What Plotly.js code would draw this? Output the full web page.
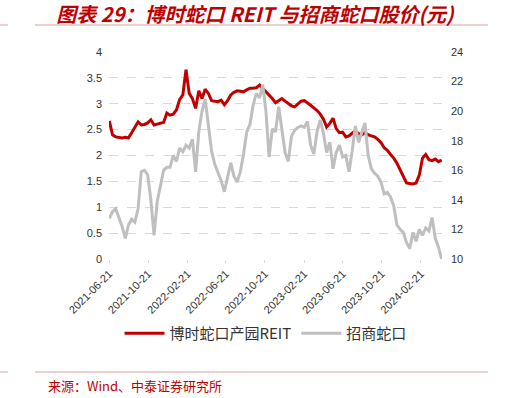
<!DOCTYPE html>
<html><head><meta charset="utf-8">
<script src="https://cdn.plot.ly/plotly-3.0.1.min.js"></script>
<style>html,body{margin:0;padding:0;background:#fff}#c{width:510px;height:398px}</style>
</head><body><div id="c"></div>
<script>
const dates = ["2021-06-21","2021-07-01","2021-07-11","2021-07-21","2021-07-31","2021-08-10","2021-08-20","2021-08-30","2021-09-09","2021-09-19",
"2021-09-29","2021-10-09","2021-10-19","2021-10-29","2021-11-08","2021-11-18","2021-11-28","2021-12-08","2021-12-18","2021-12-28",
"2022-01-07","2022-01-17","2022-01-27","2022-02-06","2022-02-16","2022-02-26","2022-03-08","2022-03-18","2022-03-28","2022-04-07",
"2022-04-17","2022-04-27","2022-05-07","2022-05-17","2022-05-27","2022-06-06","2022-06-16","2022-06-26","2022-07-06","2022-07-16",
"2022-07-26","2022-08-05","2022-08-15","2022-08-25","2022-09-04","2022-09-14","2022-09-24","2022-10-04","2022-10-14","2022-10-24",
"2022-11-03","2022-11-13","2022-11-23","2022-12-03","2022-12-13","2022-12-23","2023-01-02","2023-01-12","2023-01-22","2023-02-01",
"2023-02-11","2023-02-21","2023-03-03","2023-03-13","2023-03-23","2023-04-02","2023-04-12","2023-04-22","2023-05-02","2023-05-12",
"2023-05-22","2023-06-01","2023-06-11","2023-06-21","2023-07-01","2023-07-11","2023-07-21","2023-07-31","2023-08-10","2023-08-20",
"2023-08-30","2023-09-09","2023-09-19","2023-09-29","2023-10-09","2023-10-19","2023-10-29","2023-11-08","2023-11-18","2023-11-28",
"2023-12-08","2023-12-18","2023-12-28","2024-01-07","2024-01-17","2024-01-27","2024-02-06","2024-02-16","2024-02-26","2024-03-07",
"2024-03-17","2024-03-27","2024-04-06","2024-04-16","2024-04-26"];

const reitPrice = [2.67,2.40,2.36,2.35,2.34,2.35,2.34,2.44,2.55,2.65,
2.59,2.60,2.63,2.69,2.59,2.61,2.62,2.64,2.82,2.78,
2.80,2.88,3.08,3.17,3.66,3.20,3.10,2.91,3.25,3.10,
3.28,3.20,3.06,3.05,3.04,3.07,2.98,3.06,3.17,3.22,
3.25,3.24,3.23,3.27,3.30,3.30,3.31,3.36,3.30,3.22,
3.18,3.10,3.02,3.06,3.10,3.05,3.00,2.96,2.94,3.00,
3.05,3.06,3.02,2.97,2.92,2.87,2.80,2.70,2.55,2.62,
2.72,2.52,2.44,2.45,2.36,2.38,2.43,2.48,2.42,2.40,
2.44,2.40,2.38,2.36,2.31,2.25,2.15,2.10,2.02,1.95,
1.85,1.72,1.62,1.47,1.46,1.45,1.47,1.62,1.95,2.02,
1.92,1.90,1.93,1.88,1.91];

const cmskPrice = [12.75,13.2,13.4,12.8,12.2,11.4,12.3,12.7,12.5,13.4,
15.9,16.0,15.7,14.0,11.6,13.9,15.0,16.0,16.2,16.2,
17.0,16.6,17.5,17.25,17.7,17.5,18.1,15.9,18.6,20.0,
20.8,19.1,17.3,16.4,15.8,15.3,14.55,15.6,16.5,15.6,
15.2,15.9,17.1,18.6,19.1,20.4,21.2,20.9,21.8,20.0,
16.9,18.8,18.6,20.3,18.7,17.2,16.6,18.3,18.7,18.9,
19.0,18.9,19.3,17.7,17.1,18.6,19.4,18.5,17.2,17.9,
16.1,17.2,17.7,16.9,17.0,15.9,17.3,19.0,17.9,18.6,
19.2,17.0,16.1,15.8,15.6,15.2,14.4,14.5,14.2,13.6,
12.3,12.0,11.8,11.1,10.7,11.8,11.2,12.0,11.6,12.1,
11.9,12.8,11.4,10.8,10.0];

const tickDates = ["2021-06-21","2021-10-21","2022-02-21","2022-06-21","2022-10-21","2023-02-21","2023-06-21","2023-10-21","2024-02-21"];
const seriesNames = ["博时蛇口产园REIT","招商蛇口"];
const titleText = "图表 29：博时蛇口 REIT 与招商蛇口股价(元)";
const sourceText = "来源：Wind、中泰证券研究所";

const traces = [
  {x: dates, y: reitPrice, name: seriesNames[0], type: 'scatter', mode: 'lines',
   line: {color: '#C00000', width: 3}, yaxis: 'y'},
  {x: dates, y: cmskPrice, name: seriesNames[1], type: 'scatter', mode: 'lines',
   line: {color: '#BFBFBF', width: 3}, yaxis: 'y2'}
];

const tickFont = {family: 'Liberation Sans, Arial, sans-serif', size: 11, color: '#333333'};
const lineCol = '#D9A0A0';
const layout = {
  width: 510, height: 398,
  margin: {l: 109, r: 68, t: 52, b: 139},
  paper_bgcolor: '#ffffff', plot_bgcolor: '#ffffff',
  showlegend: true,
  title: {text: '<b><i>' + titleText + '</i></b>', x: 0.5, xanchor: 'center', y: 0.962, yanchor: 'middle',
          font: {family: 'Noto Sans CJK SC, sans-serif', size: 20, color: '#C00000'}},
  xaxis: {type: 'date', range: ['2021-06-20', '2024-04-27'], tickvals: tickDates, ticktext: tickDates,
          tickangle: -45, tickfont: tickFont, showgrid: false, zeroline: false, showline: false,
          ticks: 'outside', ticklen: 3, tickcolor: '#D9D9D9'},
  yaxis: {range: [0, 4], dtick: 0.5, tickfont: tickFont, showgrid: true, gridcolor: '#D9D9D9',
          griddash: 'dash', gridwidth: 1, zeroline: false, showline: false, ticks: '', ticklabelstandoff: 6},
  yaxis2: {range: [10, 24], dtick: 2, overlaying: 'y', side: 'right', tickfont: tickFont,
           showgrid: false, zeroline: false, showline: false, ticks: '', ticklabelstandoff: 8},
  legend: {orientation: 'h', x: 0.47, xanchor: 'center', y: -0.36, yanchor: 'middle',
           font: {family: 'Noto Sans CJK SC, sans-serif', size: 15, color: '#333333'},
           itemwidth: 40, tracegroupgap: 0},
  shapes: [
    {type: 'line', xref: 'paper', yref: 'paper', x0: -0.3273, x1: -0.3033, y0: 1.1304, y1: 1.1304, line: {color: lineCol, width: 1}},
    {type: 'line', xref: 'paper', yref: 'paper', x0: -0.2222, x1: 1.1381, y0: 1.1304, y1: 1.1304, line: {color: lineCol, width: 1}},
    {type: 'line', xref: 'paper', yref: 'paper', x0: -0.3273, x1: -0.3033, y0: -0.5459, y1: -0.5459, line: {color: lineCol, width: 1}},
    {type: 'line', xref: 'paper', yref: 'paper', x0: -0.2222, x1: 1.1381, y0: -0.5459, y1: -0.5459, line: {color: lineCol, width: 1}}
  ],
  annotations: [
    {text: sourceText, xref: 'paper', yref: 'paper', x: -0.19, y: -0.61, xanchor: 'left', yanchor: 'middle',
     showarrow: false, font: {family: 'Noto Sans CJK SC, sans-serif', size: 13, color: '#C00000'}}
  ]
};
Plotly.newPlot('c', traces, layout, {displayModeBar: false, staticPlot: true});
</script></body></html>
